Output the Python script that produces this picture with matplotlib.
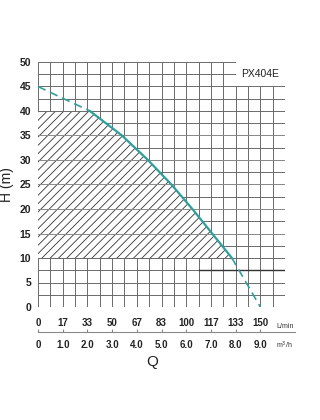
import numpy as np
import matplotlib
matplotlib.use('Agg')
from matplotlib import pyplot as plt
from matplotlib.patches import Rectangle, Polygon

plt.rcParams['font.family'] = ['Liberation Sans', 'DejaVu Sans']
plt.rcParams['hatch.linewidth'] = 0.6

# pump curve (Q in m3/h, H in m)
q_start = [0.0, 1.0, 2.1]
h_start = [45.0, 42.6, 40.0]
q_work = [2.1, 3.4, 4.45, 5.4, 6.25, 7.05, 7.85]
h_work = [40.0, 35.0, 30.0, 25.0, 20.0, 15.0, 10.0]
q_end = [7.85, 9.0]
h_end = [10.0, 0.0]

# working range limits
h_low, h_high = 10, 40

# axis labels
h_ticks = [0, 5, 10, 15, 20, 25, 30, 35, 40, 45, 50]
q_ticks = [0, 1, 2, 3, 4, 5, 6, 7, 8, 9]
m3h_labels = ['0', '1.0', '2.0', '3.0', '4.0', '5.0', '6.0', '7.0', '8.0', '9.0']
lmin_labels = ['0', '17', '33', '50', '67', '83', '100', '117', '133', '150']
model = 'PX404E'

teal = '#2f9f9c'
gridc = '#6a6a6a'

fig = plt.figure(figsize=(3.2, 4.2), dpi=100)
ax = fig.add_axes([38 / 320, 113 / 420, 247 / 320, 245 / 420])
ax.set_xlim(0, 10)
ax.set_ylim(0, 50)

# grid
for x in np.arange(0, 10.01, 0.5):
    ax.axvline(x, color=gridc, lw=0.7, zorder=1)
for y in np.arange(0, 50.01, 2.5):
    ax.axhline(y, color=gridc, lw=0.7, zorder=1)
for s in ax.spines.values():
    s.set_visible(False)

# hatched working area
poly = [(0, h_low), (0, h_high)] + list(zip(q_work, h_work))
ax.add_patch(Polygon(poly, closed=True, facecolor='white', edgecolor='#333333',
                     hatch='////', lw=0, zorder=2))
for y in range(15, 40, 5):
    ax.axhline(y, color='#8a8a8a', lw=0.7, zorder=2.5)
ax.plot([0, q_work[0]], [h_high, h_high], color=gridc, lw=0.7, zorder=2.5)
ax.plot([0, q_work[-1]], [h_low, h_low], color=gridc, lw=0.7, zorder=2.5)

ax.plot([6.5, 10], [7.5, 7.5], color='#333333', lw=1.0, zorder=2.5)

# curve
ax.plot(q_start, h_start, color=teal, lw=1.2, dashes=(5, 3), zorder=4)
ax.plot(q_work, h_work, color=teal, lw=1.6, zorder=4)
ax.plot(q_end, h_end, color=teal, lw=1.2, dashes=(5, 3), zorder=4)

# model box
ax.add_patch(Rectangle((8, 45), 2, 5, facecolor='white', edgecolor='none', zorder=3))
ax.text(9, 47.5, model, ha='center', va='center', fontsize=7.5, color='#222222', zorder=5)

ax.set_xticks([])
ax.set_yticks(h_ticks)
ax.set_yticklabels([str(h) for h in h_ticks], fontsize=7.5, fontweight='bold', color='#222222')
ax.tick_params(axis='y', length=0, pad=5)
ax.set_ylabel('H (m)', fontsize=10, color='#222222', labelpad=4)

# flow scale below the chart
ax2 = fig.add_axes([38 / 320, 88 / 420, 257 / 320, 0.0001])
ax2.set_xlim(0, 257 / 24.7)
ax2.set_yticks([])
for side in ['top', 'left', 'right']:
    ax2.spines[side].set_visible(False)
ax2.spines['bottom'].set_color('#888888')
ax2.spines['bottom'].set_linewidth(0.8)
ax2.set_xticks(q_ticks)
ax2.set_xticklabels(m3h_labels, fontsize=7, fontweight='bold', color='#222222')
ax2.tick_params(axis='x', direction='in', length=2, color='#888888', pad=6)
top = ax2.secondary_xaxis('top')
top.set_xticks(q_ticks)
top.set_xticklabels(lmin_labels, fontsize=7, fontweight='bold', color='#222222')
top.tick_params(axis='x', length=0, pad=2.5)
top.spines['top'].set_visible(False)

fig.text(276 / 320, 1 - 326 / 420, 'L/min', fontsize=5, color='#333333', va='center')
fig.text(276 / 320, 1 - 345 / 420, 'm$^3$/h', fontsize=5, color='#333333', va='center')
fig.text(152 / 320, 1 - 362 / 420, 'Q', fontsize=11, color='#222222', ha='center', va='center')

fig.savefig('out.png', dpi=100)
